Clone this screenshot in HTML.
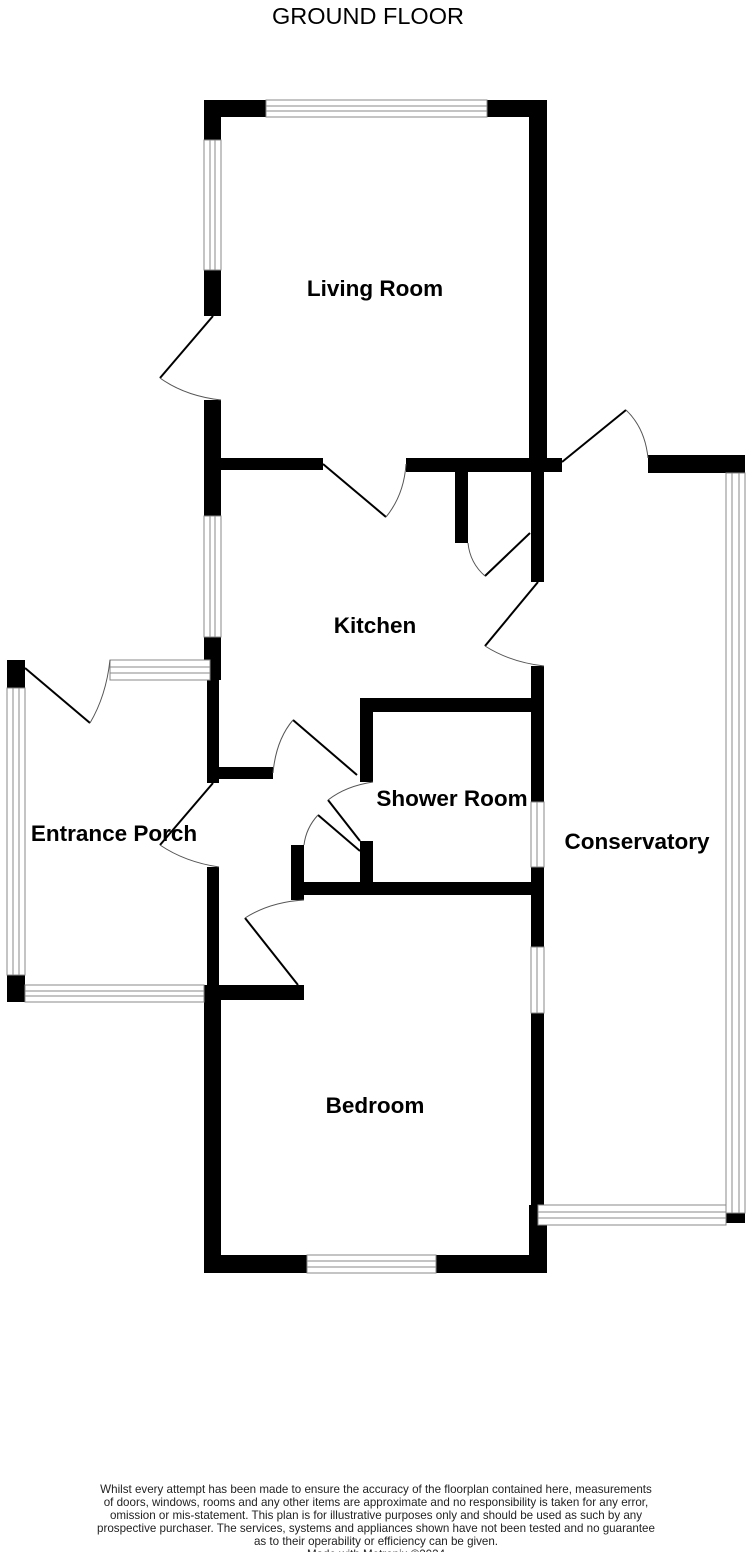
<!DOCTYPE html>
<html><head><style>
body{margin:0;background:#fff;}
svg{display:block;font-family:"Liberation Sans",sans-serif;}
.l{font-weight:bold;font-size:22.5px;fill:#000;text-anchor:middle;}
.d{stroke:#000;stroke-width:2;fill:none;}
.a{stroke:#555;stroke-width:1;fill:none;}
.w{fill:#fff;stroke:#888;stroke-width:1;}
.ft{font-size:11.6px;fill:#222;text-anchor:middle;}
</style></head><body>
<svg width="752" height="1552" viewBox="0 0 752 1552">
<text x="368" y="24" font-size="23.5" text-anchor="middle">GROUND FLOOR</text>
<g fill="#000">
<rect x="204" y="100" width="343" height="17"/>
<rect x="204" y="100" width="17" height="216"/>
<rect x="529" y="100" width="18" height="370"/>
<rect x="204" y="400" width="17" height="280"/>
<rect x="204" y="458" width="119" height="12"/>
<rect x="406" y="458" width="156" height="14"/>
<rect x="455" y="458" width="13" height="85"/>
<rect x="531" y="458" width="13" height="124"/>
<rect x="648" y="455" width="97" height="18"/>
<rect x="726" y="1213" width="19" height="10"/>
<rect x="207" y="680" width="12" height="103"/>
<rect x="207" y="767" width="66" height="12"/>
<rect x="207" y="867" width="12" height="133"/>
<rect x="7" y="660" width="18" height="28"/>
<rect x="7" y="975" width="18" height="27"/>
<rect x="360" y="698" width="178" height="14"/>
<rect x="360" y="698" width="13" height="84"/>
<rect x="531" y="666" width="13" height="136"/>
<rect x="531" y="867" width="13" height="80"/>
<rect x="531" y="1013" width="13" height="200"/>
<rect x="291" y="882" width="247" height="13"/>
<rect x="291" y="845" width="13" height="55"/>
<rect x="360" y="841" width="13" height="54"/>
<rect x="204" y="985" width="100" height="15"/>
<rect x="204" y="985" width="17" height="288"/>
<rect x="204" y="1255" width="343" height="18"/>
<rect x="529" y="1205" width="18" height="68"/>
</g>
<g class="w">
<rect x="266" y="100" width="221" height="17"/><line x1="266" y1="106" x2="487" y2="106"/><line x1="266" y1="111" x2="487" y2="111"/>
<rect x="204" y="140" width="17" height="130"/><line x1="210" y1="140" x2="210" y2="270"/><line x1="215" y1="140" x2="215" y2="270"/>
<rect x="204" y="516" width="17" height="121"/><line x1="210" y1="516" x2="210" y2="637"/><line x1="215" y1="516" x2="215" y2="637"/>
<rect x="110" y="660" width="100" height="20"/><line x1="110" y1="667" x2="210" y2="667"/><line x1="110" y1="673" x2="210" y2="673"/>
<rect x="7" y="688" width="18" height="287"/><line x1="13" y1="688" x2="13" y2="975"/><line x1="19" y1="688" x2="19" y2="975"/>
<rect x="25" y="985" width="179" height="17"/><line x1="25" y1="991" x2="204" y2="991"/><line x1="25" y1="996" x2="204" y2="996"/>
<rect x="531" y="802" width="13" height="65"/><line x1="537" y1="802" x2="537" y2="867"/>
<rect x="531" y="947" width="13" height="66"/><line x1="537" y1="947" x2="537" y2="1013"/>
<rect x="726" y="473" width="19" height="740"/><line x1="732" y1="473" x2="732" y2="1213"/><line x1="739" y1="473" x2="739" y2="1213"/>
<rect x="538" y="1205" width="188" height="20"/><line x1="538" y1="1212" x2="726" y2="1212"/><line x1="538" y1="1218" x2="726" y2="1218"/>
<rect x="307" y="1255" width="129" height="18"/><line x1="307" y1="1261" x2="436" y2="1261"/><line x1="307" y1="1267" x2="436" y2="1267"/>
</g>
<line class="d" x1="213" y1="316" x2="160" y2="378"/><path class="a" d="M160 378 Q185 396 221 400"/>
<line class="d" x1="323" y1="464" x2="386" y2="517"/><path class="a" d="M386 517 Q404 495 406 464"/>
<line class="d" x1="530" y1="533" x2="485" y2="576"/><path class="a" d="M485 576 Q470 563 468 543"/>
<line class="d" x1="538" y1="582" x2="485" y2="646"/><path class="a" d="M485 646 Q510 662 544 666"/>
<line class="d" x1="562" y1="462" x2="626" y2="410"/><path class="a" d="M626 410 Q645 428 648 458"/>
<line class="d" x1="25" y1="668" x2="90" y2="723"/><path class="a" d="M90 723 Q106 696 110 660"/>
<line class="d" x1="213" y1="783" x2="160" y2="845"/><path class="a" d="M160 845 Q185 862 219 867"/>
<line class="d" x1="293" y1="720" x2="357" y2="775"/><path class="a" d="M293 720 Q276 740 273 773"/>
<line class="d" x1="360" y1="841" x2="328" y2="800"/><path class="a" d="M328 800 Q346 786 373 782"/>
<line class="d" x1="360" y1="851" x2="318" y2="815"/><path class="a" d="M318 815 Q306 828 304 845"/>
<line class="d" x1="298" y1="985" x2="245" y2="918"/><path class="a" d="M245 918 Q270 902 304 900"/>
<text class="l" x="375" y="296">Living Room</text>
<text class="l" x="375" y="633">Kitchen</text>
<text class="l" x="114" y="841">Entrance Porch</text>
<text class="l" x="452" y="806">Shower Room</text>
<text class="l" x="637" y="849">Conservatory</text>
<text class="l" x="375" y="1113">Bedroom</text>
<text class="ft" x="376" y="1493">Whilst every attempt has been made to ensure the accuracy of the floorplan contained here, measurements</text>
<text class="ft" x="376" y="1506">of doors, windows, rooms and any other items are approximate and no responsibility is taken for any error,</text>
<text class="ft" x="376" y="1519">omission or mis-statement. This plan is for illustrative purposes only and should be used as such by any</text>
<text class="ft" x="376" y="1532">prospective purchaser. The services, systems and appliances shown have not been tested and no guarantee</text>
<text class="ft" x="376" y="1545">as to their operability or efficiency can be given.</text>
<text class="ft" x="376" y="1558">Made with Metropix ©2024</text>
</svg>
</body></html>
